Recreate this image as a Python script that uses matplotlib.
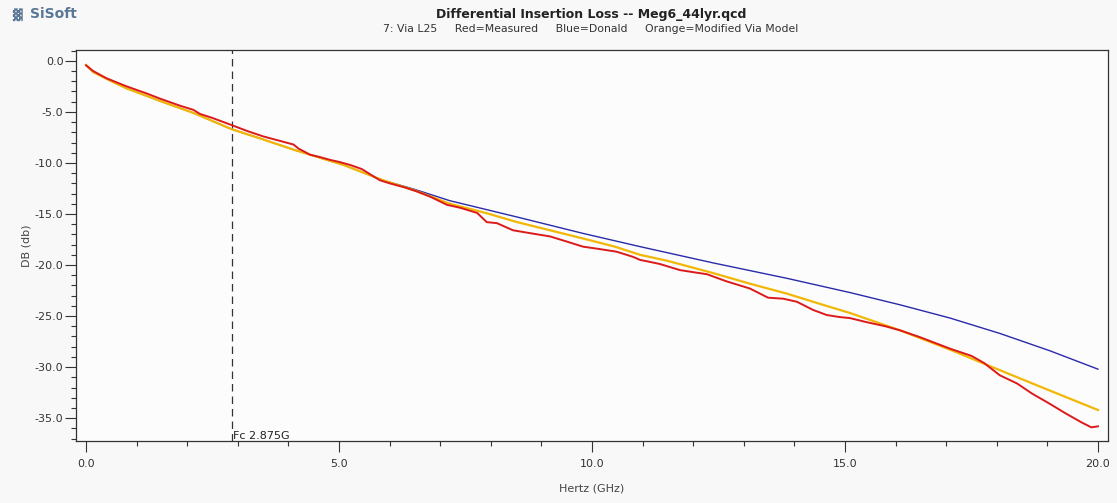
import numpy as np
import matplotlib.pyplot as plt
import matplotlib as mpl
from matplotlib.ticker import MultipleLocator, FormatStrFormatter

# measured (red), GHz / dB
red_f = [0.0, 0.14, 0.4, 0.8, 1.2, 1.46, 1.86, 2.12, 2.25, 2.5, 2.88, 3.2, 3.5,
         3.8, 4.1, 4.2, 4.43, 4.6, 4.82, 5.0, 5.22, 5.45, 5.74, 5.81, 6.0, 6.3,
         6.54, 6.8, 7.13, 7.4, 7.73, 7.92, 8.12, 8.44, 8.8, 9.17, 9.5, 9.82,
         10.1, 10.49, 10.81, 10.95, 11.15, 11.34, 11.74, 12.0, 12.27, 12.66,
         13.12, 13.48, 13.78, 14.05, 14.37, 14.64, 14.9, 15.1, 15.43, 15.8,
         16.09, 16.5, 17.08, 17.5, 17.75, 18.06, 18.4, 18.7, 19.05, 19.35,
         19.67, 19.87, 20.0]
red_db = [-0.45, -1.0, -1.7, -2.5, -3.2, -3.7, -4.4, -4.8, -5.2, -5.6, -6.3,
          -6.9, -7.4, -7.8, -8.2, -8.6, -9.2, -9.4, -9.7, -9.9, -10.2, -10.6,
          -11.5, -11.7, -12.0, -12.4, -12.8, -13.3, -14.1, -14.4, -14.9, -15.8,
          -15.9, -16.6, -16.9, -17.2, -17.7, -18.2, -18.4, -18.7, -19.2, -19.5,
          -19.7, -19.9, -20.5, -20.7, -20.9, -21.6, -22.3, -23.2, -23.3, -23.6,
          -24.4, -24.9, -25.1, -25.2, -25.6, -26.0, -26.4, -27.1, -28.2, -28.9,
          -29.6, -30.8, -31.6, -32.6, -33.6, -34.5, -35.4, -35.9, -35.8]

# Donald model (blue)
blue_f = [0.0, 0.14, 0.5, 0.8, 1.5, 2.12, 2.88, 3.5, 4.1, 4.43, 5.09, 5.87,
          6.5, 7.19, 8.52, 9.82, 10.95, 12.4, 13.85, 15.1, 16.09, 17.08,
          18.06, 19.05, 20.0]
blue_db = [-0.4, -1.1, -2.0, -2.7, -4.0, -5.1, -6.7, -7.7, -8.7, -9.2, -10.2,
           -11.7, -12.6, -13.7, -15.3, -16.9, -18.2, -19.8, -21.3, -22.7,
           -23.9, -25.2, -26.7, -28.4, -30.2]

# modified via model (orange)
orange_f = [0.0, 0.14, 0.5, 0.8, 1.5, 2.12, 2.88, 3.5, 4.1, 4.43, 5.09, 5.87,
            6.5, 7.19, 7.9, 8.52, 9.17, 9.82, 10.45, 10.95, 11.5, 12.4, 13.1,
            13.85, 14.5, 15.1, 16.09, 17.08, 18.06, 19.05, 20.0]
orange_db = [-0.4, -1.1, -2.0, -2.7, -4.0, -5.1, -6.7, -7.7, -8.7, -9.2, -10.2,
             -11.7, -12.7, -14.0, -14.9, -15.8, -16.6, -17.4, -18.2, -19.0,
             -19.6, -20.8, -21.8, -22.8, -23.8, -24.7, -26.4, -28.3, -30.3,
             -32.3, -34.2]

FC = 2.875

mpl.rcParams['font.family'] = 'DejaVu Sans'

fig = plt.figure(figsize=(11.17, 5.03), dpi=100, facecolor='#f8f8f8')
ax = fig.add_axes([0.068, 0.123, 0.924, 0.778])
ax.set_facecolor('#fcfcfc')

ax.plot(blue_f, blue_db, color='#2a2aaa', lw=1.0, zorder=3)
ax.plot(orange_f, orange_db, color='#f2b705', lw=1.6, zorder=4)
ax.plot(red_f, red_db, color='#dd1a1a', lw=1.4, zorder=5)

ax.axvline(FC, color='#333333', lw=0.9, linestyle=(0, (6, 4)), zorder=2)
ax.text(FC + 0.03, -37.2, f"Fc {FC}G", ha='left', va='bottom',
        fontsize=8, color='#222222')

ax.set_xlim(-0.2, 20.2)
ax.set_ylim(-37.25, 1.08)
ax.xaxis.set_major_locator(MultipleLocator(5))
ax.xaxis.set_minor_locator(MultipleLocator(1))
ax.yaxis.set_major_locator(MultipleLocator(5))
ax.yaxis.set_minor_locator(MultipleLocator(1))
ax.xaxis.set_major_formatter(FormatStrFormatter('%.1f'))
ax.yaxis.set_major_formatter(FormatStrFormatter('%.1f'))

ax.tick_params(axis='both', which='major', direction='out', length=8,
               width=0.8, color='#333333', labelcolor='#333333', labelsize=8)
ax.tick_params(axis='both', which='minor', direction='out', length=3.6,
               width=0.8, color='#333333')
ax.tick_params(axis='y', which='major', pad=1)
ax.tick_params(axis='x', which='major', pad=5)
for s in ax.spines.values():
    s.set_color('#333333')
    s.set_linewidth(0.9)

ax.set_ylabel('DB (db)', fontsize=8, color='#444444', labelpad=2)
ax.set_xlabel('Hertz (GHz)', fontsize=8, color='#444444', labelpad=10)

fig.text(0.529, 0.972, 'Differential Insertion Loss -- Meg6_44lyr.qcd',
         ha='center', va='center', fontsize=9, fontweight='bold',
         color='#222222')
fig.text(0.529, 0.942,
         '7: Via L25     Red=Measured     Blue=Donald     Orange=Modified Via Model',
         ha='center', va='center', fontsize=7.8, color='#333333')

# logo
fig.text(0.011, 0.972, '\u2593', ha='left', va='center', fontsize=9,
         color='#5a7896')
fig.text(0.027, 0.972, 'SiSoft', ha='left', va='center', fontsize=10,
         fontweight='bold', color='#5a7896')

fig.savefig('out.png', dpi=100, facecolor=fig.get_facecolor())
